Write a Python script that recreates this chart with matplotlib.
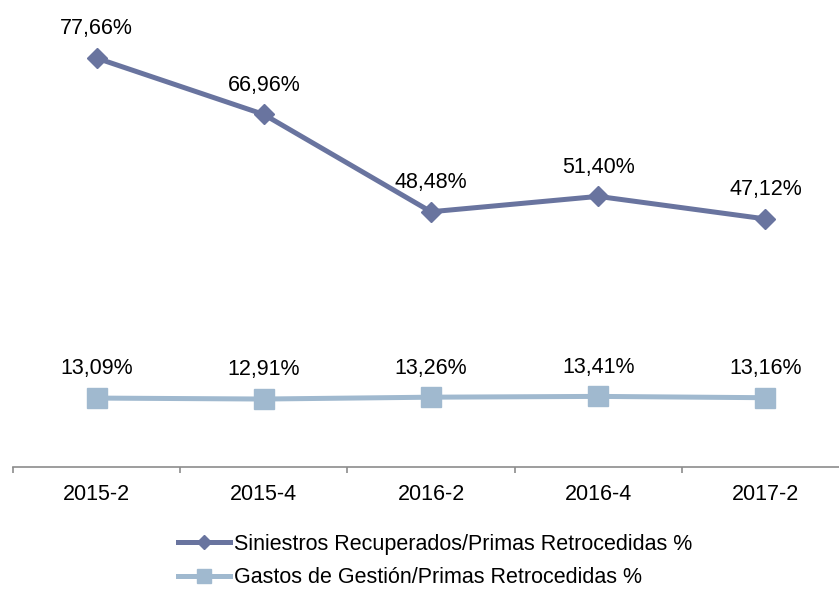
import matplotlib
matplotlib.use("Agg")
import matplotlib.pyplot as plt
from matplotlib.ticker import FixedLocator
from matplotlib.lines import Line2D

plt.rcParams['font.family'] = ['Liberation Sans', 'DejaVu Sans']

categories = ["2015-2", "2015-4", "2016-2", "2016-4", "2017-2"]
siniestros = [77.66, 66.96, 48.48, 51.40, 47.12]
gastos = [13.09, 12.91, 13.26, 13.41, 13.16]
series_names = ["Siniestros Recuperados/Primas Retrocedidas %",
                "Gastos de Gestión/Primas Retrocedidas %"]

dark = '#69749F'
light = '#A0B9CF'
fs = 15.5

fig = plt.figure(figsize=(8.39, 5.90), dpi=100)
ax = fig.add_axes([13/839, 123/590, (849-13)/839, 467/590])

x = list(range(len(categories)))
ax.plot(x, siniestros, color=dark, lw=3.6, marker='D', ms=10,
        solid_capstyle='round', label=series_names[0], zorder=3)
ax.plot(x, gastos, color=light, lw=3.6, marker='s', ms=14,
        label=series_names[1], zorder=3)

def fmt(v):
    return f"{v:.2f}".replace('.', ',') + '%'

for xi, v in zip(x, siniestros):
    ax.annotate(fmt(v), (xi, v), xytext=(0, 21), textcoords='offset points',
                ha='center', va='center', fontsize=fs, color='black')
for xi, v in zip(x, gastos):
    ax.annotate(fmt(v), (xi, v), xytext=(0, 21), textcoords='offset points',
                ha='center', va='center', fontsize=fs, color='black')

ax.set_xlim(-0.5, len(categories) - 0.5)
ax.set_ylim(0, 88.7)
for s in ['left', 'right', 'top']:
    ax.spines[s].set_visible(False)
ax.spines['bottom'].set_color('#8C8C8C')
ax.spines['bottom'].set_linewidth(1.2)
ax.set_yticks([])
ax.set_xticks(x)
ax.set_xticklabels(categories, fontsize=fs)
ax.tick_params(axis='x', which='major', length=0, pad=12.5)
ax.xaxis.set_minor_locator(FixedLocator([i - 0.5 for i in range(len(categories) + 1)]))
ax.tick_params(axis='x', which='minor', length=4.5, width=1.2, color='#8C8C8C', direction='out')
ax.patch.set_alpha(0)

h1 = Line2D([], [], color=dark, lw=3.6, marker='D', ms=7)
h2 = Line2D([], [], color=light, lw=3.6, marker='s', ms=10)
fig.legend([h1, h2], series_names, loc='upper left',
           bbox_to_anchor=(178/839, 1 - 534/590), frameon=False,
           fontsize=fs, handlelength=2.42, handletextpad=0.2,
           labelspacing=0.58, borderpad=0, borderaxespad=0)

fig.savefig('out.png', dpi=100)
